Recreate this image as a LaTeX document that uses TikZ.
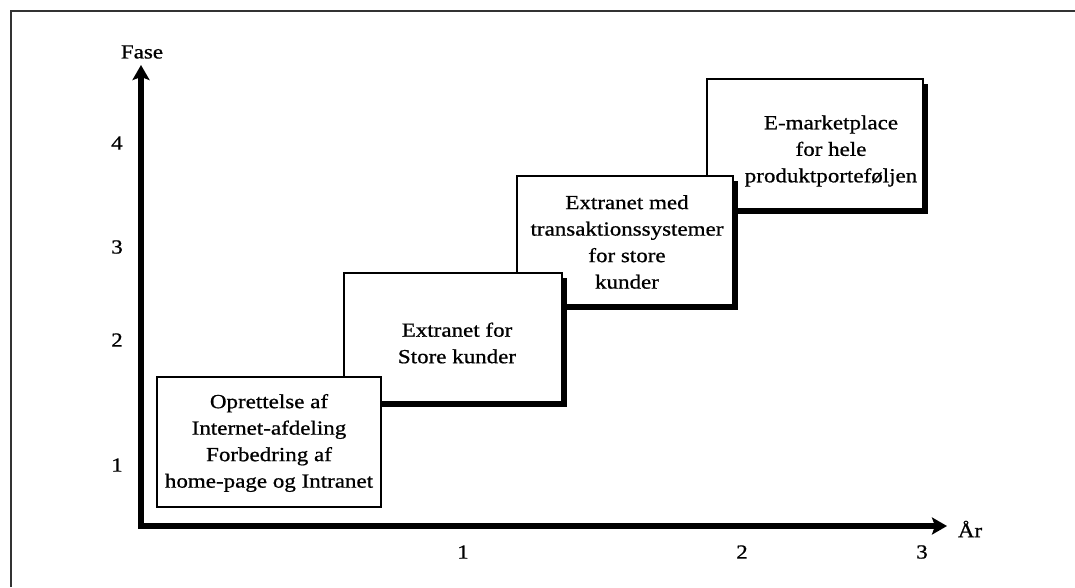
\documentclass[tikz,border=0pt]{standalone}
\usepackage{fontspec}
\setmainfont{Liberation Serif}[FakeStretch=1.15,FakeBold=0.8]
\usetikzlibrary{arrows.meta,shadows}
\begin{document}
\begin{tikzpicture}[x=1pt,y=-1pt,
  lbl/.style={inner sep=0pt,font=\fontsize{20}{26.5}\selectfont},
  boxtext/.style={inner sep=0pt,align=center,font=\fontsize{20}{26.5}\selectfont},
  phasebox/.style={draw=black,line width=1.2pt,fill=white,inner sep=0pt,rectangle},
  shadowed/.style={drop shadow={shadow xshift=5pt,shadow yshift=-5pt,opacity=1,fill=black}},
  axis/.style={line width=6.5pt,line join=miter,{Stealth[length=15pt,width=17pt,inset=3pt]}-{Stealth[length=15pt,width=17pt,inset=3pt]}},
  frame/.style={line width=1.4pt,draw=black!80}]
\useasboundingbox (0,0) rectangle (1075,587);

% partial outer frame
\draw[frame] (11,587) -- (11,11) -- (1075,11);

% phase boxes, back to front
\node[phasebox,shadowed,minimum width=216pt,minimum height=130pt] (b4) at (815,144) {};
\node[boxtext] (t4) at (831,151) {E-marketplace\\for hele\\produktporteføljen};

\node[phasebox,shadowed,minimum width=216pt,minimum height=129pt] (b3) at (625,240.5) {};
\node[boxtext] (t3) at (627,242) {Extranet med\\transaktionssystemer\\for store\\kunder};

\node[phasebox,shadowed,minimum width=218pt,minimum height=129pt] (b2) at (453,337.5) {};
\node[boxtext] (t2) at (457,343) {Extranet for\\Store kunder};

\node[phasebox,minimum width=224pt,minimum height=130pt] (b1) at (269,442) {};
\node[boxtext] (t1) at (269,443) {Oprettelse af\\Internet-afdeling\\Forbedring af\\home-page og Intranet};

% axes
\coordinate (ytip) at (141,65);
\coordinate (origin) at (141,526);
\coordinate (xtip) at (947,526);
\draw[axis] (ytip) -- (origin) -- (xtip);

\node[lbl] (fase) at (142,52) {Fase};
\node[lbl] (aar) at (970,529) {År};

\node[lbl] (y4) at (117,143) {4};
\node[lbl] (y3) at (117,247) {3};
\node[lbl] (y2) at (117,340) {2};
\node[lbl] (y1) at (117,465) {1};

\node[lbl] (x1) at (463,552) {1};
\node[lbl] (x2) at (742,552) {2};
\node[lbl] (x3) at (922,552) {3};
\end{tikzpicture}
\end{document}
